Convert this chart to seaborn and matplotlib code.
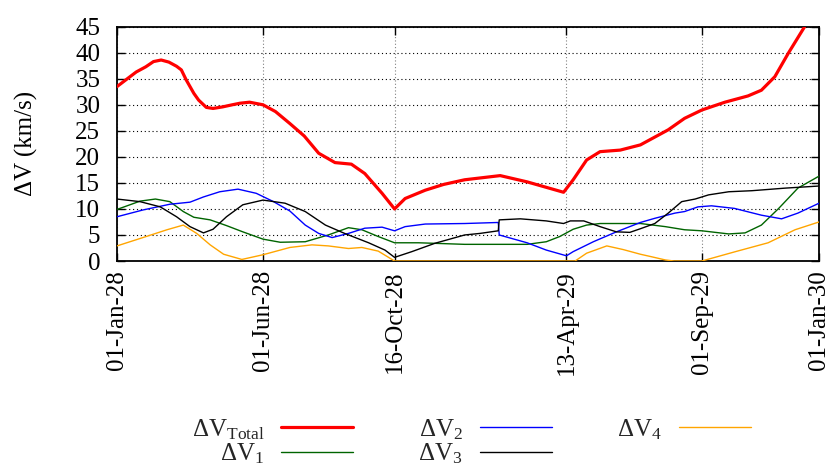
import matplotlib
matplotlib.use("Agg")
import matplotlib.pyplot as plt
import matplotlib.dates as mdates
import pandas as pd
import seaborn as sns

# Epoch of the scan; every series below is given as days after this date
start_date = "2028-01-01"
end_date = "2030-01-01"

total_days = [0, 20, 30, 38, 46, 54, 62, 67, 72, 80, 85, 93, 100, 110, 120, 128, 138,
              152, 165, 180, 195, 210, 227, 244, 258, 276, 289, 300, 321, 340, 362,
              399, 427, 465, 475, 489, 503, 524, 545, 574, 591, 609, 633, 657, 671,
              685, 699, 716, 731]
total_dv = [33.5, 36.3, 37.3, 38.3, 38.6, 38.2, 37.4, 36.7, 34.8, 32.2, 30.9, 29.5,
            29.3, 29.6, 30.0, 30.3, 30.5, 30.0, 28.7, 26.4, 24.0, 20.7, 18.9, 18.6,
            16.8, 13.0, 10.0, 12.0, 13.6, 14.7, 15.6, 16.4, 15.2, 13.2, 15.6, 19.4,
            21.0, 21.3, 22.3, 25.2, 27.4, 29.0, 30.5, 31.7, 32.8, 35.4, 39.9, 45.0,
            49.5]

dv1_days = [0, 24, 40, 55, 69, 80, 97, 114, 131, 152, 170, 196, 220, 241, 255, 272,
            289, 314, 362, 427, 447, 461, 475, 489, 503, 545, 571, 591, 609, 637,
            654, 671, 689, 709, 731]
dv1 = [9.9, 11.5, 11.9, 11.4, 9.5, 8.4, 7.9, 6.8, 5.6, 4.2, 3.6, 3.7, 5.0, 6.4, 6.0,
       4.7, 3.5, 3.5, 3.2, 3.2, 3.7, 4.7, 6.1, 6.9, 7.2, 7.2, 6.6, 6.0, 5.8, 5.2,
       5.4, 6.9, 10.1, 14.0, 16.3]

dv2_days = [0, 27, 55, 76, 90, 107, 126, 145, 163, 180, 196, 210, 224, 241, 258, 276,
            289, 300, 321, 362, 397, 398, 427, 447, 468, 475, 496, 520, 545, 560,
            581, 591, 605, 619, 643, 671, 692, 709, 731]
dv2 = [8.5, 9.8, 10.9, 11.3, 12.3, 13.3, 13.8, 13.0, 11.4, 9.6, 6.9, 5.3, 4.5, 5.3,
       6.3, 6.5, 5.8, 6.6, 7.1, 7.2, 7.4, 5.0, 3.5, 2.1, 1.0, 1.8, 3.7, 5.6, 7.4,
       8.2, 9.2, 9.5, 10.4, 10.6, 10.1, 8.8, 8.1, 9.2, 11.1]

dv3_days = [0, 24, 45, 62, 76, 90, 100, 114, 131, 152, 175, 196, 217, 237, 262, 279,
            289, 307, 331, 362, 378, 397, 398, 420, 447, 465, 472, 486, 503, 520,
            534, 545, 560, 574, 588, 602, 616, 637, 661, 696, 731]
dv3 = [11.9, 11.4, 10.4, 8.5, 6.6, 5.4, 6.1, 8.5, 10.8, 11.7, 11.1, 9.5, 6.9, 5.3,
       3.5, 2.1, 0.7, 1.8, 3.4, 5.0, 5.3, 5.8, 7.9, 8.1, 7.7, 7.2, 7.7, 7.7, 6.6,
       5.6, 5.5, 6.2, 7.2, 9.2, 11.4, 11.9, 12.7, 13.3, 13.5, 14.0, 14.4]

dv4_days = [0, 27, 52, 69, 83, 97, 111, 130, 152, 180, 203, 220, 241, 255, 272, 289,
            477, 489, 510, 527, 545, 557, 571, 580, 609, 644, 678, 706, 731]
dv4 = [2.9, 4.5, 6.0, 6.9, 5.3, 3.1, 1.3, 0.3, 1.2, 2.6, 3.1, 2.9, 2.4, 2.6, 1.9, 0.0,
       0.0, 1.5, 2.9, 2.2, 1.3, 0.8, 0.2, 0.0, 0.0, 1.8, 3.5, 6.0, 7.5]

series_labels = ["ΔV$_{\\mathrm{Total}}$", "ΔV$_{1}$", "ΔV$_{2}$", "ΔV$_{3}$", "ΔV$_{4}$"]
series_colors = ["#ff0000", "#006400", "#0000ff", "#000000", "#ffa500"]
series_widths = [2.3, 1.0, 1.0, 1.0, 1.0]

tick_dates = ["2028-01-01", "2028-06-01", "2028-10-16", "2029-04-13", "2029-09-01", "2030-01-01"]
y_ticks = [0, 5, 10, 15, 20, 25, 30, 35, 40, 45]

sns.set_theme(style="ticks")
plt.rcParams["font.family"] = ["Liberation Serif", "DejaVu Serif"]
plt.rcParams["mathtext.fontset"] = "custom"
plt.rcParams["mathtext.rm"] = "Liberation Serif"
plt.rcParams["mathtext.it"] = "Liberation Serif:italic"
plt.rcParams["mathtext.bf"] = "Liberation Serif:bold"

fig = plt.figure(figsize=(8.31, 4.65), dpi=100)
ax = fig.add_axes([0.1408, 0.4387, 0.8448, 0.5039])

t0 = pd.Timestamp(start_date)
all_days = [total_days, dv1_days, dv2_days, dv3_days, dv4_days]
all_vals = [total_dv, dv1, dv2, dv3, dv4]
for days, vals, label, color, lw in zip(all_days, all_vals, series_labels,
                                         series_colors, series_widths):
    frame = pd.DataFrame({"date": t0 + pd.to_timedelta(days, unit="D"), "dv": vals})
    sns.lineplot(data=frame, x="date", y="dv", ax=ax, color=color, linewidth=lw,
                 label=label, estimator=None, sort=False, zorder=3)

ax.set_xlim(t0, pd.Timestamp(end_date))
ax.set_ylim(0, 45)
ax.set_xticks(pd.to_datetime(tick_dates))
ax.xaxis.set_major_formatter(mdates.DateFormatter("%d-%b-%y"))
ax.set_yticks(y_ticks)
ax.set_xlabel("")
ax.set_ylabel("ΔV (km/s)", fontsize=18, labelpad=27, color="black")

ax.set_axisbelow(True)
ax.grid(True, axis="y", color="black", linestyle=(0, (1, 2.5)), linewidth=0.8)
ax.grid(True, axis="x", color="#808080", linestyle=(0, (1, 2)), linewidth=0.8)
for spine in ax.spines.values():
    spine.set_color("black")
    spine.set_linewidth(1.3)
    spine.set_visible(True)

ax.tick_params(axis="both", direction="in", length=6, width=1, top=True, right=True,
               labelsize=18, colors="black")
ax.tick_params(axis="y", pad=12)
ax.tick_params(axis="x", pad=6.5)
for lab in ax.get_xticklabels():
    lab.set_rotation(90)
    lab.set_ha("center")
    lab.set_va("top")

handles, labels = ax.get_legend_handles_labels()
ax.legend(handles, labels, ncol=3, loc="center", bbox_to_anchor=(0.567, 0.050),
          bbox_transform=fig.transFigure, frameon=False, markerfirst=False,
          fontsize=18, handlelength=2.88, handletextpad=0.68, columnspacing=2.6,
          labelspacing=0.0, borderpad=0)

fig.savefig("out.png", dpi=100)
